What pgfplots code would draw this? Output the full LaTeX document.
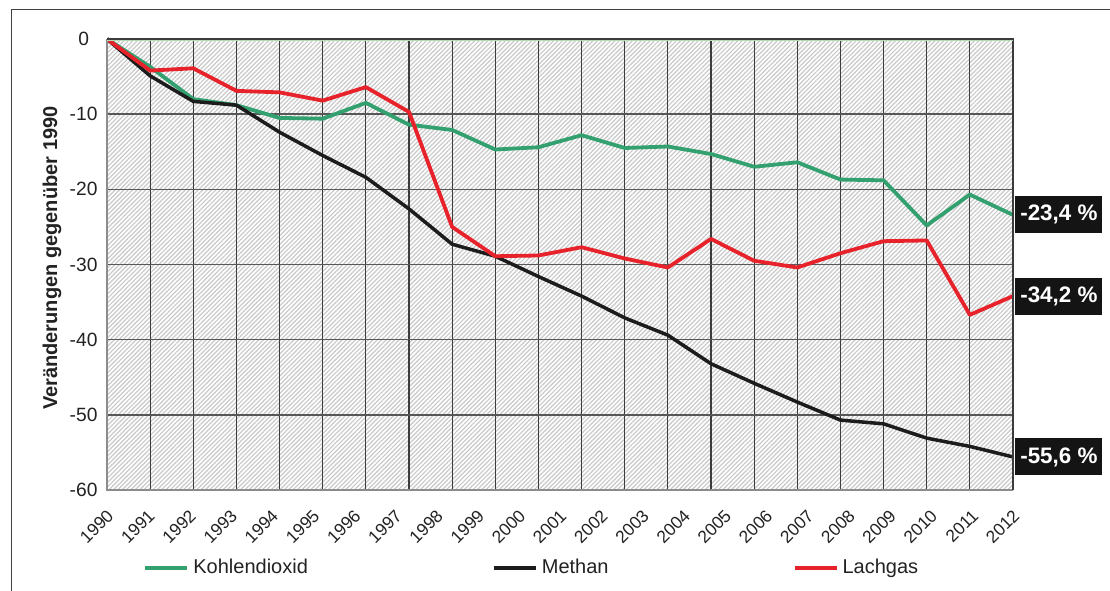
\documentclass[border=0pt]{standalone}
\usepackage{pgfplots}
\pgfplotsset{compat=1.18}
\usepackage{pgfplotstable}
\usepackage{fontspec}
\setmainfont{Liberation Sans}
\usetikzlibrary{patterns.meta}

\definecolor{co2}{HTML}{33A06F}
\definecolor{ch4}{HTML}{1C1C1C}
\definecolor{n2o}{HTML}{E8222A}
\definecolor{gridc}{HTML}{3C3C3C}
\definecolor{hatchc}{HTML}{C9C9C9}
\definecolor{toplinec}{HTML}{B4DBB4}
\definecolor{textc}{HTML}{222222}

% Change relative to 1990 (per cent), one row per data point
\pgfplotstableread{
idx  co2    ch4    n2o
0    0      0      0
1    -3.7   -4.9   -4.2
2    -8.0   -8.3   -3.9
3    -8.8   -8.8   -6.9
4    -10.5  -12.4  -7.1
5    -10.6  -15.5  -8.2
6    -8.5   -18.4  -6.4
7    -11.4  -22.6  -9.7
8    -12.1  -27.3  -25.0
9    -14.7  -28.9  -28.9
10   -14.4  -31.6  -28.8
11   -12.8  -34.2  -27.7
12   -14.5  -37.1  -29.2
13   -14.3  -39.4  -30.4
14   -15.3  -43.2  -26.6
15   -17.0  -45.8  -29.5
16   -16.4  -48.3  -30.4
17   -18.7  -50.7  -28.5
18   -18.8  -51.2  -26.9
19   -24.8  -53.1  -26.8
20   -20.7  -54.2  -36.7
21   -23.4  -55.6  -34.2
}\emissions

\tikzset{endlabel/.style={anchor=west, xshift=1pt, fill=black!92, text=white,
  font=\fontsize{11.2}{12}\selectfont\bfseries, minimum width=43.5pt,
  minimum height=18.5pt, inner sep=0pt}}

\begin{document}
\begin{tikzpicture}
\useasboundingbox (0,0) rectangle (555pt,-295pt);
\fill[white] (0,0) rectangle (555pt,-295pt);
\draw[black!75, line width=0.8pt] (5.8pt,-300pt) -- (5.8pt,-4.7pt) -- (560pt,-4.7pt);
\begin{axis}[
  at={(53.5pt,-19.5pt)}, anchor=north west,
  width=453pt, height=225.5pt, scale only axis,
  xmin=0, xmax=21, ymin=-60, ymax=0,
  clip=false,
  axis line style={draw=none},
  axis background/.style={pattern={Lines[angle=45,distance=1.55pt,line width=0.6pt]}, pattern color=hatchc},
  xtick={0,0.95455,1.90909,2.86364,3.81818,4.77273,5.72727,6.68182,7.63636,8.59091,9.54545,10.5,11.45455,12.40909,13.36364,14.31818,15.27273,16.22727,17.18182,18.13636,19.09091,20.04545,21},
  xticklabels={1990,1991,1992,1993,1994,1995,1996,1997,1998,1999,2000,2001,2002,2003,2004,2005,2006,2007,2008,2009,2010,2011,2012},
  minor xtick={0,1,...,21},
  xminorgrids=true,
  minor grid style={gridc, line width=0.6pt},
  ytick={-60,-50,-40,-30,-20,-10,0},
  yticklabels={-60,-50,-40,-30,-20,-10,0},
  ymajorgrids=true,
  major grid style={black!66, line width=0.7pt},
  tick style={draw=none},
  xticklabel style={xshift=-0.5pt, yshift=-9pt, rotate=45, anchor=north east, inner sep=0pt,
    font=\fontsize{8.7}{10}\selectfont, text=textc},
  yticklabel style={text width=17pt, align=center, inner sep=0pt, xshift=-3pt,
    font=\fontsize{9.6}{11}\selectfont, text=textc},
  ylabel={Veränderungen gegenüber 1990},
  ylabel style={at={(axis description cs:-0.0607,0.514)}, anchor=center,
    font=\fontsize{10}{12}\selectfont\bfseries, text=textc},
  legend columns=3,
  legend style={at={(axis description cs:0.0397,-0.173)}, anchor=west, draw=none, fill=none,
    inner sep=0pt, font=\fontsize{10}{12}\selectfont, text=textc,
    /tikz/every even column/.append style={column sep=90pt}},
  legend image code/.code={\draw[#1, line width=2pt] (0pt,0pt) -- (21pt,0pt);},
  every axis plot/.append style={line width=1.9pt, line join=round},
]
\addplot[co2] table[x=idx, y=co2] {\emissions};
\addlegendentry{Kohlendioxid}
\addplot[ch4, line width=1.75pt] table[x=idx, y=ch4] {\emissions};
\addlegendentry{Methan}
\addplot[n2o] table[x=idx, y=n2o] {\emissions};
\addlegendentry{Lachgas}

% frame of the plot area
\draw[black!45, line width=0.6pt] (rel axis cs:0,1) -- (rel axis cs:0,0) -- (rel axis cs:1,0);
\draw[gridc, line width=0.6pt] (rel axis cs:1,0) -- (rel axis cs:1,1) -- (rel axis cs:0,1);
\draw[toplinec, line width=0.8pt] ([yshift=-0.7pt]rel axis cs:0,1) -- ([yshift=-0.7pt]rel axis cs:1,1);

% values at the end of each series
\node[endlabel] at (axis cs:21,-23.4) {-23,4 \%};
\node[endlabel] at (axis cs:21,-34.2) {-34,2 \%};
\node[endlabel] at (axis cs:21,-55.6) {-55,6 \%};
\end{axis}
\end{tikzpicture}
\end{document}
